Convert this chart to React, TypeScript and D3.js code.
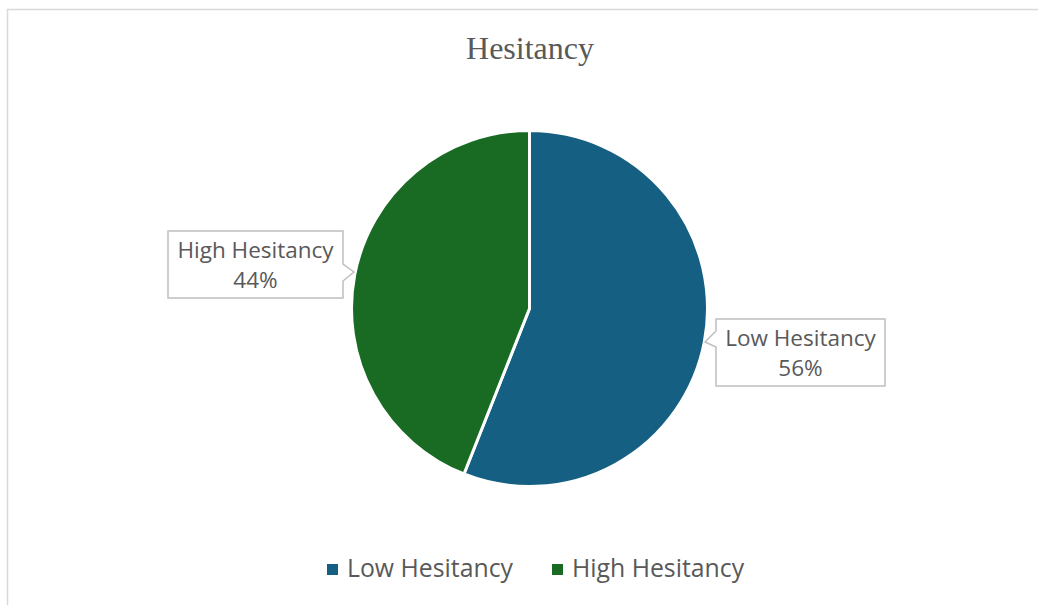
import React from "react";
import * as d3 from "d3";

const categories = ["Low Hesitancy", "High Hesitancy"];
const values = [56, 44];
const colors = ["#156082", "#196B24"];
const title = "Hesitancy";

const W = 1038;
const H = 605;
const cx = 529.5;
const cy = 308.5;
const R = 178;

const labelFont = "'Open Sans', 'Noto Sans', sans-serif";

export default function App() {
  const pie = d3.pie<number>().sort(null).value((d) => d)(values);
  const arc = d3.arc<d3.PieArcDatum<number>>().innerRadius(0).outerRadius(R);
  const total = d3.sum(values);
  const fmt = (v: number) => `${Math.round((v / total) * 100)}%`;

  const boxes = [
    { x: 716, y: 319, w: 169, h: 67, side: "left", b0: 331, b1: 347, tx: 705, ty: 342 },
    { x: 168, y: 231, w: 175, h: 67, side: "right", b0: 264, b1: 281, tx: 354, ty: 272 },
  ];

  const calloutPath = (b: any) => {
    const { x, y, w, h } = b;
    if (b.side === "left") {
      return `M${x},${y} H${x + w} V${y + h} H${x} V${b.b1} L${b.tx},${b.ty} L${x},${b.b0} Z`;
    }
    return `M${x},${y} H${x + w} V${b.b0} L${b.tx},${b.ty} L${x + w},${b.b1} V${y + h} H${x} Z`;
  };

  return (
    <svg width={W} height={H} style={{ position: "absolute", left: 0, top: 0 }}>
      <rect x={0} y={0} width={W} height={H} fill="#fff" />
      <path d={`M7.5,${H} V9.5 H${W}`} fill="none" stroke="#d9d9d9" strokeWidth={1.5} />
      <text x={530} y={59} textAnchor="middle" fontFamily="'Liberation Serif', 'Times New Roman', serif" fontSize={32} fill="#595959">
        {title}
      </text>
      <g transform={`translate(${cx},${cy})`}>
        {pie.map((p, i) => (
          <path key={i} d={arc(p) as string} fill={colors[i]} stroke="#fff" strokeWidth={3} strokeLinejoin="round" />
        ))}
      </g>
      {boxes.map((b, i) => (
        <g key={i}>
          <path d={calloutPath(b)} fill="#fff" stroke="#bfbfbf" strokeWidth={1.5} />
          <text x={b.x + b.w / 2} y={b.y + 27} textAnchor="middle" fontFamily={labelFont} fontSize={22.5} fill="#595959">
            {categories[i]}
          </text>
          <text x={b.x + b.w / 2} y={b.y + 57} textAnchor="middle" fontFamily={labelFont} fontSize={22.5} fill="#595959">
            {fmt(values[i])}
          </text>
        </g>
      ))}
      {categories.map((c, i) => {
        const lx = [327, 552][i];
        return (
          <g key={c}>
            <rect x={lx} y={564} width={11} height={11} fill={colors[i]} />
            <text x={lx + 20} y={577} fontFamily={labelFont} fontSize={24.8} fill="#595959">
              {c}
            </text>
          </g>
        );
      })}
    </svg>
  );
}
